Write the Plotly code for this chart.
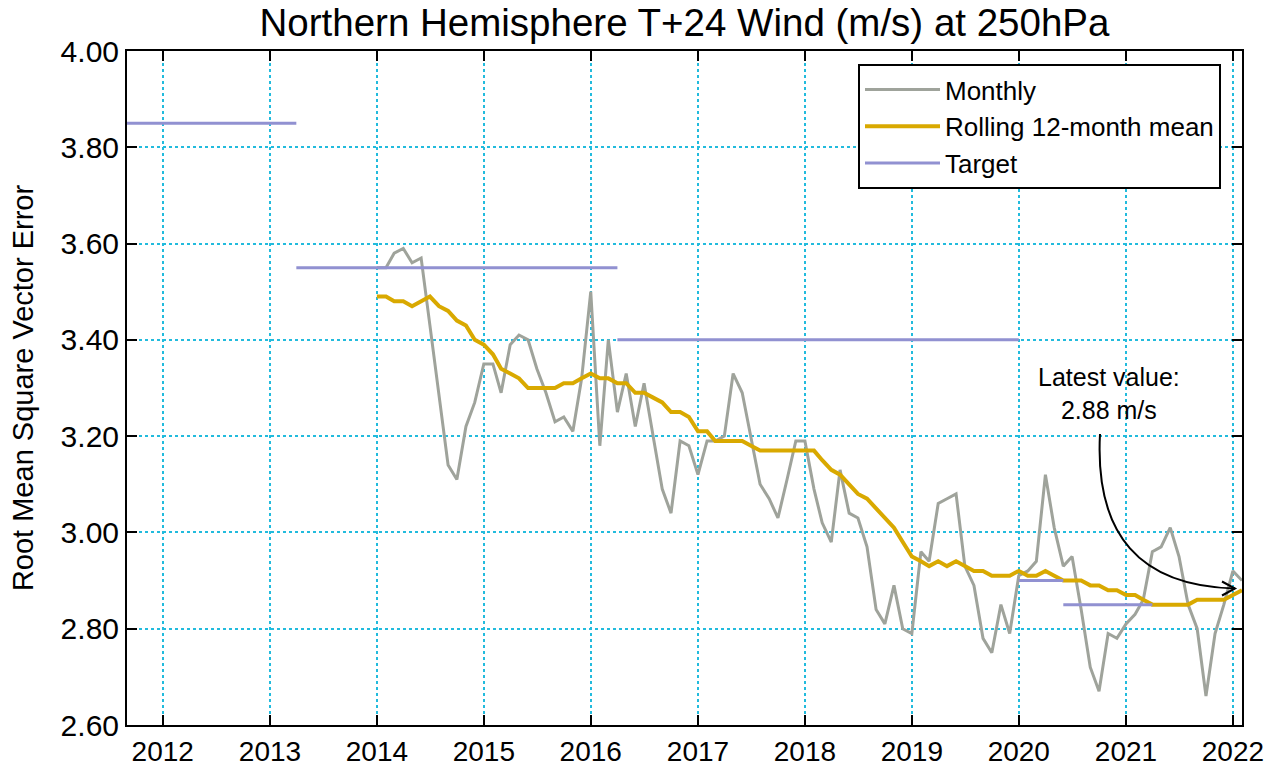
import plotly.graph_objects as go
import pandas as pd

# ---------------- data ----------------
monthly_dates = pd.date_range("2014-01-01", "2022-02-01", freq="MS")

monthly_values = [
    # 2014
    3.55, 3.55, 3.58, 3.59, 3.56, 3.57, 3.43, 3.28, 3.14, 3.11, 3.22, 3.27,
    # 2015
    3.35, 3.35, 3.29, 3.39, 3.41, 3.40, 3.34, 3.29, 3.23, 3.24, 3.21, 3.32,
    # 2016
    3.50, 3.18, 3.40, 3.25, 3.33, 3.22, 3.31, 3.20, 3.09, 3.04, 3.19, 3.18,
    # 2017
    3.12, 3.19, 3.19, 3.20, 3.33, 3.29, 3.20, 3.10, 3.07, 3.03, 3.11, 3.19,
    # 2018
    3.19, 3.09, 3.02, 2.98, 3.13, 3.04, 3.03, 2.97, 2.84, 2.81, 2.89, 2.80,
    # 2019
    2.79, 2.96, 2.94, 3.06, 3.07, 3.08, 2.93, 2.89, 2.78, 2.75, 2.85, 2.79,
    # 2020
    2.91, 2.92, 2.94, 3.12, 3.01, 2.93, 2.95, 2.84, 2.72, 2.67, 2.79, 2.78,
    # 2021
    2.81, 2.83, 2.86, 2.96, 2.97, 3.01, 2.95, 2.85, 2.80, 2.66, 2.79, 2.85,
    # 2022
    2.92, 2.90,
]

rolling_values = [
    # 2014
    3.49, 3.49, 3.48, 3.48, 3.47, 3.48, 3.49, 3.47, 3.46, 3.44, 3.43, 3.40,
    # 2015
    3.39, 3.37, 3.34, 3.33, 3.32, 3.30, 3.30, 3.30, 3.30, 3.31, 3.31, 3.32,
    # 2016
    3.33, 3.32, 3.32, 3.31, 3.31, 3.29, 3.29, 3.28, 3.27, 3.25, 3.25, 3.24,
    # 2017
    3.21, 3.21, 3.19, 3.19, 3.19, 3.19, 3.18, 3.17, 3.17, 3.17, 3.17, 3.17,
    # 2018
    3.17, 3.17, 3.15, 3.13, 3.12, 3.10, 3.08, 3.07, 3.05, 3.03, 3.01, 2.98,
    # 2019
    2.95, 2.94, 2.93, 2.94, 2.93, 2.94, 2.93, 2.92, 2.92, 2.91, 2.91, 2.91,
    # 2020
    2.92, 2.91, 2.91, 2.92, 2.91, 2.90, 2.90, 2.90, 2.89, 2.89, 2.88, 2.88,
    # 2021
    2.87, 2.87, 2.86, 2.85, 2.85, 2.85, 2.85, 2.85, 2.86, 2.86, 2.86, 2.86,
    # 2022
    2.87, 2.88,
]

target_starts = ["2011-04-01", "2013-04-01", "2016-04-01", "2020-01-01", "2020-06-01"]
target_ends = ["2013-04-01", "2016-04-01", "2020-01-01", "2020-06-01", "2021-04-01"]
target_values = [3.85, 3.55, 3.40, 2.90, 2.85]

x_range = ["2011-09-01", "2022-02-01"]
y_ticks = [2.6, 2.8, 3.0, 3.2, 3.4, 3.6, 3.8, 4.0]

title_text = "Northern Hemisphere T+24 Wind (m/s) at 250hPa"
y_title = "Root Mean Square Vector Error"
latest_label = "Latest value:"
latest_value_text = f"{rolling_values[-1]:.2f} m/s"

# ---------------- figure ----------------
FONT = "Liberation Sans, Arial, Helvetica, sans-serif"
W, H = 1281, 766
ML, MR, MT, MB = 127, 39, 51, 41
PW, PH = W - ML - MR, H - MT - MB


def px_x(x):
    return (x - ML) / PW


def px_y(y):
    return (H - MB - y) / PH


tx, ty = [], []
for s, e, v in zip(target_starts, target_ends, target_values):
    tx += [s, e, None]
    ty += [v, v, None]

fig = go.Figure()
fig.add_trace(go.Scatter(
    x=monthly_dates, y=monthly_values, mode="lines", name="Monthly",
    line=dict(color="#9fa39b", width=3),
))
fig.add_trace(go.Scatter(
    x=monthly_dates, y=rolling_values, mode="lines", name="Rolling 12-month mean",
    line=dict(color="#d9a900", width=4),
))
fig.add_trace(go.Scatter(
    x=tx, y=ty, mode="lines", name="Target", connectgaps=False,
    line=dict(color="#9191d1", width=3),
))

grid = dict(gridcolor="#22bbdd", griddash="dot", gridwidth=1.5)
axis_common = dict(
    showline=True, linecolor="black", linewidth=2, mirror="ticks",
    ticks="inside", ticklen=10, tickwidth=2, tickcolor="black",
    zeroline=False, automargin=False, **grid,
)

fig.update_xaxes(
    type="date", range=x_range, dtick="M12", tick0="2012-01-01",
    tickformat="%Y", tickfont=dict(family=FONT, size=28, color="black"),
    **axis_common,
)
fig.update_yaxes(
    range=[y_ticks[0], y_ticks[-1]], tickvals=y_ticks, tickformat=".2f",
    tickfont=dict(family=FONT, size=30, color="black"),
    title=dict(text=y_title, font=dict(family=FONT, size=29, color="black"), standoff=18),
    **axis_common,
)

# curved annotation arrow (quadratic curve in paper coords)
x0, y0 = px_x(1100), px_y(434)
cx, cy = px_x(1092), px_y(585)
x1, y1 = px_x(1235), px_y(588.5)
hx = px_x(1222)
fig.add_shape(type="path", xref="paper", yref="paper",
              path=f"M {x0} {y0} Q {cx} {cy} {x1} {y1}",
              line=dict(color="black", width=2))
fig.add_shape(type="path", xref="paper", yref="paper",
              path=f"M {hx} {px_y(581.5)} L {x1} {y1} L {hx} {px_y(595.5)}",
              line=dict(color="black", width=2))

fig.add_annotation(x=px_x(1108.5), y=px_y(393), xref="paper", yref="paper",
                   text=f"{latest_label}<br>{latest_value_text}", showarrow=False,
                   font=dict(family=FONT, size=25, color="black"),
                   xanchor="center", yanchor="middle", align="center")

fig.update_layout(
    width=W, height=H,
    margin=dict(l=ML, r=MR, t=MT, b=MB, pad=0, autoexpand=False),
    paper_bgcolor="white", plot_bgcolor="white",
    title=dict(text=title_text, x=0.5, xref="paper", xanchor="center",
               y=1 - 23 / H, yanchor="middle", yref="container",
               font=dict(family=FONT, size=38.5, color="black")),
    legend=dict(
        x=px_x(858), y=px_y(64), xanchor="left", yanchor="top",
        bgcolor="white", bordercolor="black", borderwidth=2,
        font=dict(family=FONT, size=26, color="black"),
        itemwidth=75,
    ),
    showlegend=True,
)

fig.write_html("out.html", config={"displayModeBar": False},
               post_script="document.body.style.margin='0';document.body.style.padding='0';")
